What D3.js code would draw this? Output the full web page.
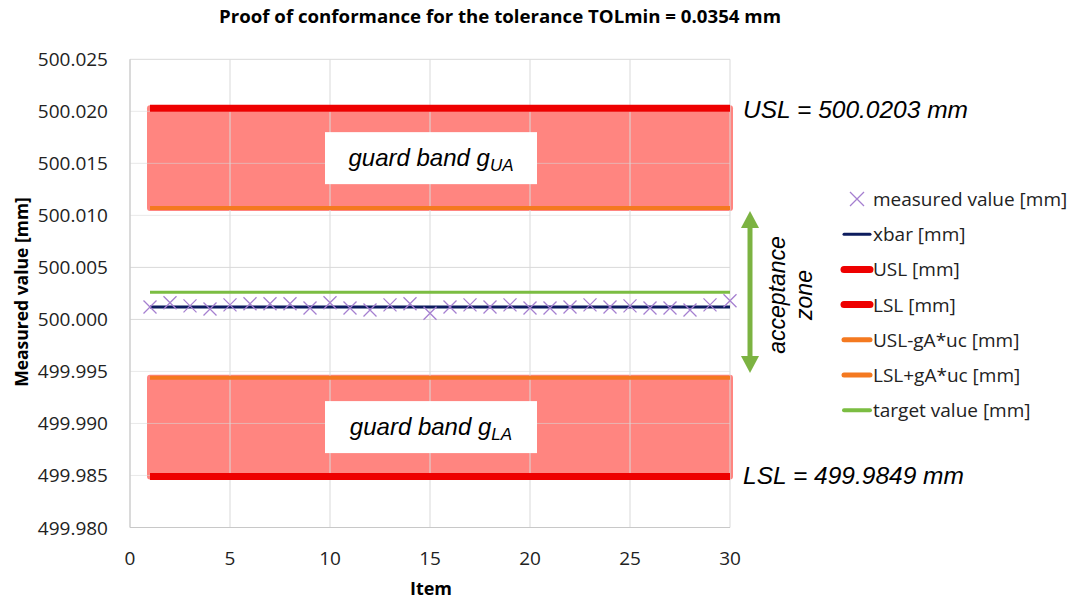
<!DOCTYPE html>
<html><head><meta charset="utf-8">
<script src="https://cdn.jsdelivr.net/npm/d3@7"></script>
<style>body{margin:0;background:#fff}svg{display:block}</style>
</head><body><svg id="c" width="1075" height="600"></svg>
<script>
const items = d3.range(1, 31);
const measured = [500.0012,500.0016,500.0013,500.0010,500.0014,500.0015,500.0015,500.0015,500.0011,500.0016,
  500.0011,500.0009,500.0014,500.0015,500.0006,500.0012,500.0014,500.0012,500.0014,500.0011,
  500.0011,500.0012,500.0014,500.0012,500.0013,500.0011,500.0011,500.0009,500.0014,500.0018];
const xbar = 500.0012, USL = 500.0203, LSL = 499.9849, USLg = 500.0107, LSLg = 499.9944, target = 500.0026;
const yTicks = [499.980,499.985,499.990,499.995,500.000,500.005,500.010,500.015,500.020,500.025];
const xTicks = [0,5,10,15,20,25,30];
const legendLabels = ["measured value [mm]","xbar [mm]","USL [mm]","LSL [mm]","USL-gA*uc [mm]","LSL+gA*uc [mm]","target value [mm]"];

const svg = d3.select("#c");
const F = "'Open Sans', 'Liberation Sans', sans-serif";
const IF = "'Liberation Sans', Arial, sans-serif";
const x = d3.scaleLinear().domain([0,30]).range([130,730]);
const y = d3.scaleLinear().domain([499.980,500.025]).range([527.5,59.3]);
const grid = "#d9d9d9";

// bands
const bands = [[USL, USLg],[LSLg, LSL]];
svg.selectAll("rect.band").data(bands).join("rect").attr("class","band")
  .attr("x", x(1)-3).attr("width", x(30)-x(1)+6)
  .attr("y", d=>y(d[0])-3).attr("height", d=>y(d[1])-y(d[0])+6)
  .attr("rx",3).attr("fill","#ff8580");

// gridlines
svg.append("g").selectAll("line").data(yTicks).join("line")
  .attr("x1",x(0)).attr("x2",x(30)).attr("y1",d=>y(d)).attr("y2",d=>y(d))
  .attr("stroke",grid).attr("stroke-width",1).attr("opacity",d=>(d>499.984&&d<499.996)||(d>500.009&&d<500.021)?0.55:1);
svg.append("g").selectAll("line").data(xTicks).join("line")
  .attr("y1",y(499.980)).attr("y2",y(500.025)).attr("x1",d=>x(d)).attr("x2",d=>x(d))
  .attr("stroke",grid);
svg.append("line").attr("x1",x(0)).attr("x2",x(30)).attr("y1",y(499.98)).attr("y2",y(499.98)).attr("stroke","#c8c8c8");
svg.append("line").attr("x1",x(0)).attr("x2",x(0)).attr("y1",y(499.98)).attr("y2",y(500.025)).attr("stroke","#c8c8c8");

// label boxes
const boxes = [{v:(USL+USLg)/2, main:"guard band g", sub:"UA"},{v:(LSL+LSLg)/2, main:"guard band g", sub:"LA"}];
boxes.forEach(b=>{
  const cy = y(b.v);
  svg.append("rect").attr("x",325).attr("width",212).attr("y",cy-26).attr("height",52).attr("fill","#fff");
  const t = svg.append("text").attr("x",431).attr("y",cy+8).attr("text-anchor","middle")
    .attr("font-family",IF).attr("font-style","italic").attr("font-size",24).attr("fill","#000");
  t.append("tspan").text(b.main);
  t.append("tspan").attr("font-size",17).attr("dy",5).text(b.sub);
});

// horizontal lines
const hl = [
  {v:USLg, c:"#f47920", w:4},{v:LSLg, c:"#f47920", w:4},
  {v:USL, c:"#ee0000", w:7},{v:LSL, c:"#ee0000", w:7},
  {v:target, c:"#7bbd42", w:3},{v:xbar, c:"#0d1c5e", w:3}
];
svg.selectAll("line.h").data(hl).join("line").attr("class","h")
  .attr("x1",x(1)).attr("x2",x(30)).attr("y1",d=>y(d.v)).attr("y2",d=>y(d.v))
  .attr("stroke",d=>d.c).attr("stroke-width",d=>d.w);

// markers
const s = 6.5;
svg.append("g").selectAll("path").data(measured).join("path")
  .attr("d",(d,i)=>{const cx=x(items[i]), cy=y(d);return `M${cx-s},${cy-s}L${cx+s},${cy+s}M${cx-s},${cy+s}L${cx+s},${cy-s}`;})
  .attr("stroke","#a57fd0").attr("stroke-width",1.3).attr("fill","none");

// axes labels
svg.append("g").selectAll("text").data(yTicks).join("text")
  .attr("x",108).attr("y",d=>y(d)+7).attr("text-anchor","end")
  .attr("font-family",F).attr("font-size",19).attr("fill","#222").text(d=>d.toFixed(3));
svg.append("g").selectAll("text").data(xTicks).join("text")
  .attr("x",d=>x(d)).attr("y",565).attr("text-anchor","middle")
  .attr("font-family",F).attr("font-size",19).attr("fill","#222").text(d=>d);
svg.append("text").attr("x",431).attr("y",595).attr("text-anchor","middle")
  .attr("font-family",F).attr("font-weight","bold").attr("font-size",18).text("Item");
svg.append("text").attr("transform","translate(28,292) rotate(-90)").attr("text-anchor","middle")
  .attr("font-family",F).attr("font-weight","bold").attr("font-size",17.5).text("Measured value [mm]");
svg.append("text").attr("x",500).attr("y",23).attr("text-anchor","middle")
  .attr("font-family",F).attr("font-weight","bold").attr("font-size",17.5)
  .attr("textLength",562).attr("lengthAdjust","spacingAndGlyphs")
  .text("Proof of conformance for the tolerance TOLmin = 0.0354 mm");

// USL / LSL annotation
svg.append("text").attr("x",743).attr("y",118).attr("font-family",IF).attr("font-style","italic").attr("font-size",24.5).text("USL = 500.0203 mm");
svg.append("text").attr("x",743).attr("y",y(LSL)+7).attr("font-family",IF).attr("font-style","italic").attr("font-size",24.5).text("LSL = 499.9849 mm");

// acceptance arrow
const ax = 750, ay1 = 211, ay2 = 373;
svg.append("line").attr("x1",ax).attr("x2",ax).attr("y1",ay1+14).attr("y2",ay2-14).attr("stroke","#7cb342").attr("stroke-width",5);
svg.append("path").attr("d",`M${ax-9},${ay1+17}L${ax},${ay1}L${ax+9},${ay1+17}Z`).attr("fill","#7cb342");
svg.append("path").attr("d",`M${ax-9},${ay2-17}L${ax},${ay2}L${ax+9},${ay2-17}Z`).attr("fill","#7cb342");
const at = svg.append("text").attr("transform",`translate(785,${(ay1+ay2)/2+3}) rotate(-90)`).attr("text-anchor","middle")
  .attr("font-family",IF).attr("font-style","italic").attr("font-size",23);
at.append("tspan").attr("x",0).attr("y",0).text("acceptance");
at.append("tspan").attr("x",0).attr("y",27).text("zone");

// legend
const lg = svg.append("g");
const lstyle = [null,{c:"#0d1c5e",w:3},{c:"#ee0000",w:7},{c:"#ee0000",w:7},{c:"#f47920",w:5},{c:"#f47920",w:5},{c:"#7bbd42",w:4}];
legendLabels.forEach((lab,i)=>{
  const ly = 199 + i*35.2;
  if(i===0){
    lg.append("path").attr("d",`M${857-7},${ly-7}L${857+7},${ly+7}M${857-7},${ly+7}L${857+7},${ly-7}`).attr("stroke","#a57fd0").attr("stroke-width",1.3);
  } else {
    lg.append("line").attr("x1",844).attr("x2",870).attr("y1",ly).attr("y2",ly).attr("stroke",lstyle[i].c).attr("stroke-width",lstyle[i].w).attr("stroke-linecap","round");
  }
  lg.append("text").attr("x",873).attr("y",ly+7).attr("font-family",F).attr("font-size",19).attr("fill","#222").text(lab);
});
</script></body></html>
